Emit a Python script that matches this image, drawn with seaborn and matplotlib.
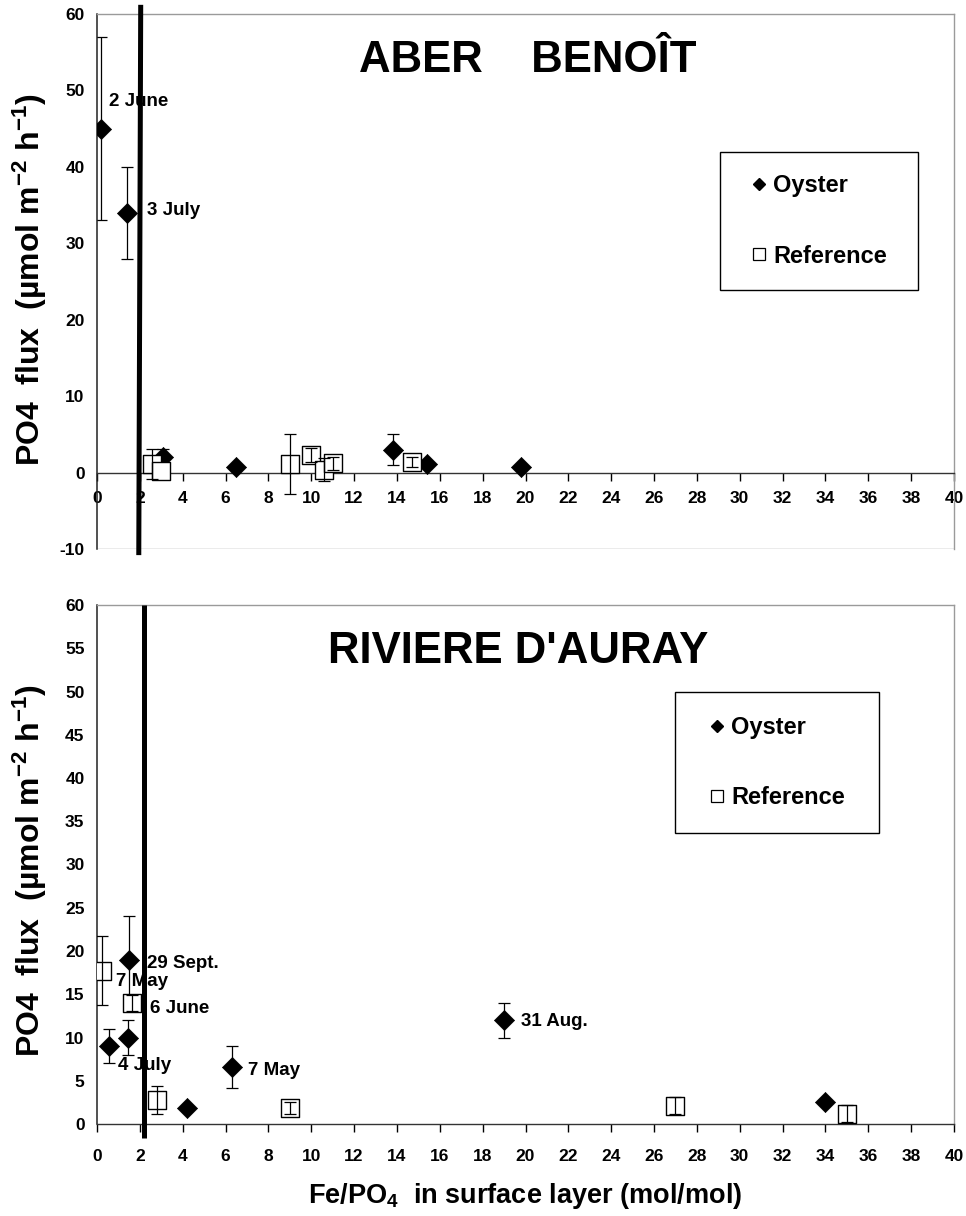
import matplotlib
matplotlib.use("Agg")
import matplotlib.pyplot as plt
import seaborn as sns
import pandas as pd
from matplotlib.lines import Line2D
from matplotlib.patches import Rectangle

sns.set_theme(style="white")
plt.rcParams["font.family"] = ["Liberation Sans", "DejaVu Sans"]
plt.rcParams["font.weight"] = "bold"
plt.rcParams["mathtext.fontset"] = "custom"
plt.rcParams["mathtext.rm"] = "Liberation Sans:bold"
plt.rcParams["mathtext.it"] = "Liberation Sans:bold"
plt.rcParams["mathtext.bf"] = "Liberation Sans:bold"
plt.rcParams["axes.unicode_minus"] = False
for k in ("text.color", "axes.labelcolor", "xtick.color", "ytick.color"):
    plt.rcParams[k] = "black"

# ---- Aber Benoît ----
ab_oys_x = [0.2, 1.4, 3.1, 6.5, 13.8, 15.4, 19.8]
ab_oys_y = [45.0, 34.0, 2.1, 0.75, 3.0, 1.1, 0.75]
ab_oys_err = [12.0, 6.0, 1.0, 0.0, 2.0, 0.0, 0.0]
ab_ref_x = [2.55, 3.0, 9.0, 10.0, 10.6, 11.0, 14.7]
ab_ref_y = [1.1, 0.2, 1.1, 2.3, 0.4, 1.2, 1.4]
ab_ref_err = [2.0, 0.0, 3.9, 0.9, 1.5, 0.8, 0.65]
ab_labels = ["2 June", "3 July"]
ab_label_x = [0.56, 2.34]
ab_label_y = [48.6, 34.3]

# ---- Rivière d'Auray ----
au_oys_x = [0.55, 1.45, 1.5, 4.2, 6.3, 19.0, 34.0]
au_oys_y = [9.0, 10.0, 19.0, 1.9, 6.6, 12.0, 2.6]
au_oys_err = [2.0, 2.0, 5.0, 0.0, 2.4, 2.0, 0.0]
au_ref_x = [0.22, 1.62, 2.8, 9.0, 27.0, 35.0]
au_ref_y = [17.7, 14.0, 2.8, 1.9, 2.1, 1.2]
au_ref_err = [4.0, 0.9, 1.6, 0.7, 1.0, 1.0]
au_labels = ["29 Sept.", "7 May", "6 June", "4 July", "7 May", "31 Aug."]
au_label_x = [2.35, 0.89, 2.48, 1.0, 7.06, 19.8]
au_label_y = [18.6, 16.5, 13.4, 6.8, 6.2, 11.8]

x_ticks = list(range(0, 41, 2))

W, H = 966, 1216
fig = plt.figure(figsize=(W / 100, H / 100), dpi=100)
ax1 = fig.add_axes([97 / W, 1 - 549 / H, 857 / W, 535 / H])
ax2 = fig.add_axes([97 / W, 1 - 1124 / H, 857 / W, 519 / H])

GRAY = "#9a9a9a"


def draw_series(ax, ox, oy, oe, rx, ry, re_):
    oys = pd.DataFrame({"x": ox, "y": oy, "err": oe})
    ref = pd.DataFrame({"x": rx, "y": ry, "err": re_})
    oe_ = oys[oys.err > 0]
    ax.errorbar(oe_.x, oe_.y, yerr=oe_.err, fmt="none", ecolor="black",
                elinewidth=0.9, capsize=4, capthick=0.9, zorder=2)
    sns.scatterplot(data=oys, x="x", y="y", marker="D", s=105, color="black",
                    edgecolor="black", linewidth=0.5, ax=ax, zorder=3, legend=False)
    sns.scatterplot(data=ref, x="x", y="y", marker="s", s=150, color="white",
                    edgecolor="black", linewidth=1.0, ax=ax, zorder=3, legend=False)
    re2 = ref[ref.err > 0]
    ax.errorbar(re2.x, re2.y, yerr=re2.err, fmt="none", ecolor="black",
                elinewidth=0.9, capsize=4, capthick=0.9, zorder=4)


def legend_box(ax, x0, y0, x1, y1):
    ax.add_patch(Rectangle((x0, y0), x1 - x0, y1 - y0, transform=ax.transAxes,
                           facecolor="white", edgecolor="black", linewidth=1.0,
                           zorder=5, clip_on=False))
    handles = [
        Line2D([], [], marker="D", linestyle="none", markersize=6.6,
               markerfacecolor="black", markeredgecolor="black"),
        Line2D([], [], marker="s", linestyle="none", markersize=8.6,
               markerfacecolor="white", markeredgecolor="black", markeredgewidth=0.9),
    ]
    leg = ax.legend(handles, ["Oyster", "Reference"], loc="center",
                    bbox_to_anchor=((x0 + x1) / 2, (y0 + y1) / 2),
                    bbox_transform=ax.transAxes, frameon=False, fontsize=17,
                    handlelength=0.7, handletextpad=0.25, labelspacing=2.0,
                    borderpad=0)
    leg.set_zorder(6)


def style_axes(ax, ymin, ymax, ystep):
    ax.set_xlim(0, 40)
    ax.set_ylim(ymin, ymax)
    ax.set_xticks(x_ticks)
    ax.set_yticks(list(range(ymin, ymax + 1, ystep)))
    ax.tick_params(axis="both", direction="out", length=6, width=1,
                   color="black", labelsize=12.5, labelcolor="black")
    ax.tick_params(axis="y", pad=3)
    ax.tick_params(axis="x", bottom=True)
    ax.spines["left"].set_color("#222222")
    ax.spines["left"].set_linewidth(1.1)
    ax.spines["bottom"].set_color("#333333")
    ax.spines["bottom"].set_linewidth(1.0)
    for s in ("top", "right"):
        ax.spines[s].set_color(GRAY)
        ax.spines[s].set_linewidth(1.0)
    ax.set_xlabel("")
    ax.set_ylabel("PO4  flux  (µmol m$^{-2}$ h$^{-1}$)", fontsize=23,
                  fontweight="bold", color="black")


# ---- top panel ----
draw_series(ax1, ab_oys_x, ab_oys_y, ab_oys_err, ab_ref_x, ab_ref_y, ab_ref_err)
style_axes(ax1, -10, 60, 10)
ax1.spines["bottom"].set_position(("data", 0))
ax1.axhline(-10, color=GRAY, linewidth=1.0, zorder=1)
ax1.tick_params(axis="x", pad=7)
ax1.plot([2.04, 1.95], [61.2, -10.8], color="black", linewidth=3.6,
         solid_capstyle="butt", clip_on=False, zorder=4)
for t, x, y in zip(ab_labels, ab_label_x, ab_label_y):
    ax1.text(x, y, t, fontsize=13.5, fontweight="bold", ha="left", va="center", zorder=6)
ax1.text(0.503, 0.914, "ABER    BENOÎT", transform=ax1.transAxes, fontsize=31.5,
         fontweight="bold", ha="center", va="center")
legend_box(ax1, 0.727, 0.484, 0.958, 0.742)
ax1.yaxis.set_label_coords(-0.056, 0.503)

# ---- bottom panel ----
draw_series(ax2, au_oys_x, au_oys_y, au_oys_err, au_ref_x, au_ref_y, au_ref_err)
style_axes(ax2, 0, 60, 5)
ax2.tick_params(axis="x", pad=12)
ax2.plot([2.2, 2.2], [60, -1.6], color="black", linewidth=3.6,
         solid_capstyle="butt", clip_on=False, zorder=4)
for t, x, y in zip(au_labels, au_label_x, au_label_y):
    ax2.text(x, y, t, fontsize=13.5, fontweight="bold", ha="left", va="center", zorder=6)
ax2.text(0.491, 0.911, "RIVIERE D'AURAY", transform=ax2.transAxes, fontsize=31.5,
         fontweight="bold", ha="center", va="center")
legend_box(ax2, 0.6744, 0.5607, 0.9125, 0.8324)
ax2.yaxis.set_label_coords(-0.056, 0.489)
ax2.set_xlabel("Fe/PO$_4$  in surface layer (mol/mol)", fontsize=19.5,
               fontweight="bold", color="black", labelpad=12)

fig.savefig("out.png", dpi=100, facecolor="white")
